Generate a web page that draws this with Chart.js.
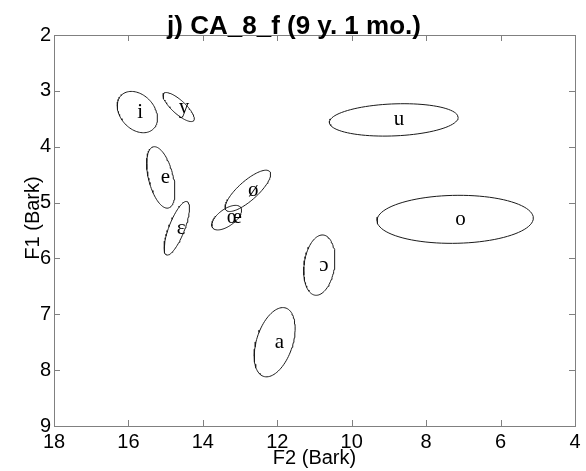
<!DOCTYPE html>
<html>
<head>
<meta charset="utf-8">
<script src="https://cdn.jsdelivr.net/npm/chart.js@4.4.0/dist/chart.umd.min.js"></script>
<style>
    html, body { margin: 0; padding: 0; background: #fff; }
</style>
</head>
<body>
<canvas id="vowelChart" width="586" height="471"></canvas>
<script>
// Vowel labels (IPA)
const vowels = ['i', 'y', 'e', 'ɛ', 'ø', 'œ', 'a', 'ɔ', 'u', 'o'];
// Ellipse centres (Bark)
const f2Mean = [15.76, 14.65, 15.13, 14.70, 12.79, 13.36, 12.07, 10.87, 8.87, 7.22];
const f1Mean = [3.38, 3.29, 4.55, 5.46, 4.79, 5.27, 7.50, 6.12, 3.52, 5.30];
// Half extent of each ellipse along F2 and F1 (Bark)
const f2Spread = [0.54, 0.42, 0.38, 0.34, 0.61, 0.40, 0.55, 0.42, 1.73, 2.10];
const f1Spread = [0.37, 0.26, 0.55, 0.48, 0.37, 0.22, 0.62, 0.54, 0.29, 0.43];
// F1/F2 correlation (tilt of each ellipse)
const f1f2Corr = [-0.3, -0.8, -0.45, 0.75, 0.8, 0.6, 0.4, 0.2, 0.15, 0.05];

// Axis ticks
const f2Ticks = [18, 16, 14, 12, 10, 8, 6, 4];
const f1Ticks = [2, 3, 4, 5, 6, 7, 8, 9];

const sansFont = '"Liberation Sans", Arial, sans-serif';
const serifFont = '"Liberation Serif", "DejaVu Serif", serif';

// Outline of one vowel ellipse in data space
function ellipseOutline(k) {
    const r = f1f2Corr[k];
    const s = Math.sqrt(1 - r * r);
    const pts = [];
    for (let a = 0; a <= 360; a += 4) {
        const t = a * Math.PI / 180;
        pts.push({
            x: f2Mean[k] + f2Spread[k] * Math.cos(t),
            y: f1Mean[k] + f1Spread[k] * (r * Math.cos(t) + s * Math.sin(t))
        });
    }
    return pts;
}

// Box round the plot with inward tick marks on all four sides, plus titles
const frameTicks = {
    id: 'frameTicks',
    afterDraw(chart) {
        const { ctx, chartArea: a, scales: { x, y } } = chart;
        ctx.save();
        ctx.strokeStyle = '#808080';
        ctx.lineWidth = 1;
        ctx.strokeRect(Math.round(a.left) + 0.5, Math.round(a.top) + 0.5,
            Math.round(a.right - a.left), Math.round(a.bottom - a.top));
        ctx.beginPath();
        x.ticks.forEach(function(t) {
            const px = Math.round(x.getPixelForValue(t.value)) + 0.5;
            ctx.moveTo(px, a.bottom); ctx.lineTo(px, a.bottom - 6);
            ctx.moveTo(px, a.top); ctx.lineTo(px, a.top + 6);
        });
        y.ticks.forEach(function(t) {
            const py = Math.round(y.getPixelForValue(t.value)) + 0.5;
            ctx.moveTo(a.left, py); ctx.lineTo(a.left + 6, py);
            ctx.moveTo(a.right, py); ctx.lineTo(a.right - 6, py);
        });
        ctx.stroke();

        ctx.fillStyle = '#000';
        // title sits on the top border
        ctx.font = 'bold 26px ' + sansFont;
        ctx.textAlign = 'center';
        ctx.textBaseline = 'alphabetic';
        ctx.fillText('j) CA_8_f (9 y. 1 mo.)', 294, 34);

        // y axis label, a little above the middle as in the original
        ctx.font = '20px ' + sansFont;
        ctx.textBaseline = 'middle';
        ctx.translate(33, 218);
        ctx.rotate(-Math.PI / 2);
        ctx.fillText('F1 (Bark)', 0, 0);
        ctx.restore();
    }
};

// Vowel symbol at each ellipse centre
const vowelLabels = {
    id: 'vowelLabels',
    afterDatasetsDraw(chart) {
        const { ctx, scales: { x, y } } = chart;
        ctx.save();
        ctx.fillStyle = '#000';
        ctx.font = '21px ' + serifFont;
        ctx.textAlign = 'left';
        ctx.textBaseline = 'middle';
        vowels.forEach(function(v, k) {
            ctx.fillText(v, x.getPixelForValue(f2Mean[k]), y.getPixelForValue(f1Mean[k]));
        });
        ctx.restore();
    }
};

const ctx = document.getElementById('vowelChart').getContext('2d');
const vowelChart = new Chart(ctx, {
    type: 'scatter',
    data: {
        datasets: vowels.map(function(v, k) {
            return {
                label: v,
                data: ellipseOutline(k),
                showLine: true,
                borderColor: '#1a1a1a',
                borderWidth: 1,
                pointRadius: 0,
                fill: false
            };
        })
    },
    options: {
        responsive: false,
        animation: false,
        devicePixelRatio: 1,
        layout: { padding: { top: 35, right: 11, left: 0, bottom: 0 } },
        plugins: {
            legend: { display: false },
            tooltip: { enabled: false },
            title: { display: false }
        },
        scales: {
            x: {
                type: 'linear',
                position: 'bottom',
                reverse: true,
                min: 4,
                max: 18,
                afterBuildTicks: function(s) { s.ticks = f2Ticks.map(v => ({ value: v })); },
                afterFit: function(s) { s.height = 45; },
                grid: { display: false, drawTicks: false },
                border: { display: false },
                ticks: {
                    color: '#000',
                    font: { family: sansFont, size: 20 },
                    padding: 4,
                    maxRotation: 0,
                    autoSkip: false
                },
                title: {
                    display: true,
                    text: 'F2 (Bark)',
                    color: '#000',
                    font: { family: sansFont, size: 20 },
                    padding: { top: 0, bottom: 1 }
                }
            },
            y: {
                type: 'linear',
                reverse: true,
                min: 2,
                max: 9,
                afterBuildTicks: function(s) { s.ticks = f1Ticks.map(v => ({ value: v })); },
                afterFit: function(s) { s.width = 54; },
                grid: { display: false, drawTicks: false },
                border: { display: false },
                ticks: {
                    color: '#000',
                    font: { family: sansFont, size: 20 },
                    padding: 3,
                    autoSkip: false
                },
                title: { display: false }
            }
        }
    },
    plugins: [frameTicks, vowelLabels]
});
</script>
</body>
</html>
